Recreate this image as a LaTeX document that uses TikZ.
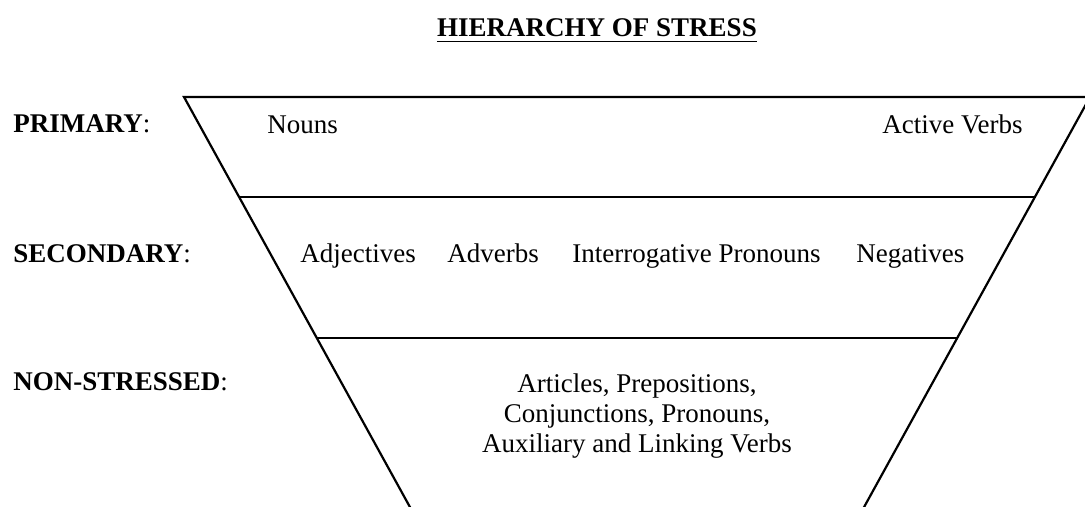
\documentclass[tikz,border=0pt]{standalone}
\usepackage{fontspec}
\setmainfont{Liberation Serif}

\newcommand{\hband}[1]{
	\pgfmathsetmacro{\HBy}{#1}
	\pgfmathsetmacro{\HBl}{\tpLx + \tpSl * (\HBy - \tpTop)}
	\pgfmathsetmacro{\HBr}{\tpRx - \tpSl * (\HBy - \tpTop)}
	\draw[tline] (\HBl, \HBy) -- (\HBr, \HBy);
}

\tikzset{
	tline/.style={line width=1.1pt},
	lvl/.style={anchor=base west, inner sep=0pt},
	word/.style={anchor=base west, inner sep=0pt},
}

\begin{document}
\begin{tikzpicture}[x=0.5pt, y=-0.5pt, font=\fontsize{13.5}{15}\selectfont]
\useasboundingbox (0,0) rectangle (1085,507);
\clip (0,0) rectangle (1085,507);

\pgfmathsetmacro{\tpTop}{97}
\pgfmathsetmacro{\tpLx}{184}
\pgfmathsetmacro{\tpRx}{1090}
\pgfmathsetmacro{\tpSl}{0.551}
\pgfmathsetmacro{\tpBl}{\tpLx + \tpSl * 423}
\pgfmathsetmacro{\tpBr}{\tpRx - \tpSl * 423}

\draw[tline] (\tpBl, 520) -- (\tpLx, \tpTop) -- (\tpRx, \tpTop) -- (\tpBr, 520);
\hband{197}
\hband{338}

\node[anchor=base, inner sep=0pt] (title) at (597,37) {\textbf{HIERARCHY OF STRESS}};
\draw[line width=0.9pt] ([yshift=-2.3pt]title.base west) -- ([yshift=-2.3pt]title.base east);

\node[lvl] (primary) at (13,133) {\textbf{PRIMARY}:};
\node[lvl] (secondary) at (13,263) {\textbf{SECONDARY}:};
\node[lvl] (nonstressed) at (13,390) {\textbf{NON-STRESSED}:};

\node[word] (nouns) at (267,134) {Nouns};
\node[word, anchor=base east] (activeverbs) at (1023,134) {Active Verbs};
\node[word] (adjectives) at (300,263) {Adjectives};
\node[word] (adverbs) at (447,263) {Adverbs};
\node[word] (interrogative) at (572,263) {Interrogative Pronouns};
\node[word] (negatives) at (856,263) {Negatives};
\node[anchor=base, align=center, inner sep=0pt] (nonlist) at (637,452) {Articles, Prepositions,\\Conjunctions, Pronouns,\\Auxiliary and Linking Verbs};
\end{tikzpicture}
\end{document}
